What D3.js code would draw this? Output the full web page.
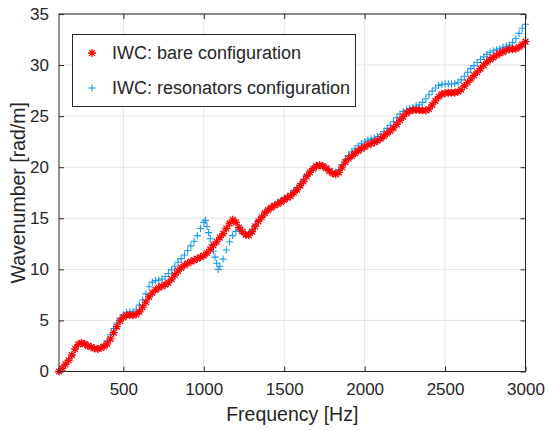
<!DOCTYPE html>
<html>
<head>
<meta charset="utf-8">
<script src="https://cdn.jsdelivr.net/npm/d3@7"></script>
<style>
  body { margin: 0; background: #fff; }
  text { font-family: "Liberation Sans", Arial, Helvetica, sans-serif; fill: #262626; }
</style>
</head>
<body>
<svg id="chart" width="548" height="431"></svg>
<script>
// Frequency grid shared by both measurements (Hz)
const freqHz = d3.range(100, 3001, 20);

// Wavenumber of the bare wall (rad/m)
const bareK = [
  0.0, 0.3, 0.7, 1.1, 1.6, 2.2, 2.65, 2.8, 2.7, 2.5,
  2.4, 2.25, 2.2, 2.3, 2.45, 2.7, 3.2, 3.8, 4.4, 4.95,
  5.3, 5.5, 5.55, 5.5, 5.6, 5.85, 6.3, 6.8, 7.3, 7.7,
  8.0, 8.2, 8.35, 8.5, 8.7, 9.05, 9.45, 9.85, 10.15, 10.4,
  10.6, 10.75, 10.9, 11.05, 11.2, 11.35, 11.6, 11.95, 12.35, 12.7,
  13.1, 13.5, 14.0, 14.5, 14.85, 14.6, 14.1, 13.7, 13.4, 13.35,
  13.7, 14.2, 14.7, 15.1, 15.5, 15.8, 16.05, 16.25, 16.4, 16.6,
  16.8, 17.0, 17.2, 17.5, 17.8, 18.2, 18.6, 19.1, 19.5, 19.85,
  20.1, 20.2, 20.1, 19.9, 19.65, 19.4, 19.3, 19.5, 20.0, 20.5,
  20.85, 21.1, 21.35, 21.6, 21.8, 22.0, 22.2, 22.3, 22.45, 22.6,
  22.8, 23.05, 23.3, 23.55, 23.85, 24.2, 24.6, 24.95, 25.3, 25.5,
  25.6, 25.6, 25.6, 25.55, 25.55, 25.7, 26.1, 26.5, 26.9, 27.15,
  27.25, 27.3, 27.3, 27.3, 27.4, 27.6, 27.95, 28.3, 28.65, 29.0,
  29.3, 29.65, 30.0, 30.3, 30.55, 30.75, 30.95, 31.15, 31.3, 31.45,
  31.55, 31.55, 31.6, 31.75, 32.0, 32.3
];

// Wavenumber of the wall fitted with resonators (rad/m)
const resonK = [
  0.0, 0.3, 0.7, 1.1, 1.6, 2.2, 2.65, 2.8, 2.7, 2.5,
  2.4, 2.25, 2.2, 2.35, 2.6, 3.0, 3.6, 4.2, 4.75, 5.2,
  5.55, 5.8, 5.85, 5.85, 6.05, 6.5, 7.0, 7.6, 8.3, 8.75,
  8.9, 8.95, 9.05, 9.3, 9.6, 9.95, 10.3, 10.7, 11.05, 11.4,
  11.85, 12.3, 12.75, 13.3, 14.0, 14.6, 14.2, 13.0, 11.8, 10.6,
  10.3, 11.0, 11.9, 12.7, 13.3, 13.7, 13.85, 13.7, 13.5, 13.45,
  13.8, 14.3, 14.8, 15.2, 15.6, 15.9, 16.15, 16.35, 16.55, 16.75,
  16.95, 17.15, 17.4, 17.7, 18.0, 18.4, 18.8, 19.2, 19.6, 19.9,
  20.15, 20.25, 20.15, 19.95, 19.75, 19.55, 19.5, 19.75, 20.25, 20.75,
  21.15, 21.5, 21.8, 22.1, 22.3, 22.5, 22.65, 22.75, 22.85, 23.0,
  23.2, 23.5, 23.8, 24.1, 24.45, 24.85, 25.2, 25.45, 25.6, 25.75,
  25.85, 26.0, 26.1, 26.35, 26.7, 27.1, 27.45, 27.75, 28.0, 28.1,
  28.15, 28.15, 28.15, 28.2, 28.3, 28.55, 28.9, 29.3, 29.65, 29.95,
  30.25, 30.55, 30.8, 31.05, 31.25, 31.4, 31.5, 31.6, 31.75, 31.85,
  31.95, 32.2, 32.6, 33.1, 33.6, 34.0
];

// Finer samples across the resonator notch
const notchHz = [1010, 1030, 1050, 1070, 1090];
const notchK = [14.8, 13.6, 12.4, 11.2, 10.0];

const xTicks = [500, 1000, 1500, 2000, 2500, 3000];
const yTicks = [0, 5, 10, 15, 20, 25, 30, 35];
const seriesNames = ["IWC: bare configuration", "IWC: resonators configuration"];
const xLabel = "Frequency [Hz]";
const yLabel = "Wavenumber [rad/m]";

const bareColor = "#ff0000";
const resonColor = "#1a9bf2";
const axisColor = "#262626";
const gridColor = "#e3e3e3";

const svg = d3.select("#chart");
const plot = { left: 59, right: 525.5, top: 14, bottom: 371.5 };

const x = d3.scaleLinear().domain([100, 3000]).range([plot.left, plot.right]);
const y = d3.scaleLinear().domain([0, 35]).range([plot.bottom, plot.top]);

// grid
const grid = svg.append("g");
grid.selectAll("line.gx").data(xTicks).join("line")
  .attr("x1", d => x(d)).attr("x2", d => x(d))
  .attr("y1", plot.top).attr("y2", plot.bottom)
  .attr("stroke", gridColor).attr("stroke-width", 1);
grid.selectAll("line.gy").data(yTicks).join("line")
  .attr("y1", d => y(d)).attr("y2", d => y(d))
  .attr("x1", plot.left).attr("x2", plot.right)
  .attr("stroke", gridColor).attr("stroke-width", 1);

// marker shapes
const rPlus = 3.6;
const plusPath = `M${-rPlus},0H${rPlus}M0,${-rPlus}V${rPlus}`;
const rStar = 4;
const d7 = rStar * 0.72;
const starPath = `M${-rStar},0H${rStar}M0,${-rStar}V${rStar}` +
  `M${-d7},${-d7}L${d7},${d7}M${-d7},${d7}L${d7},${-d7}`;

const resonPts = freqHz.map((f, i) => [f, resonK[i]])
  .concat(notchHz.map((f, i) => [f, notchK[i]]))
  .sort((a, b) => a[0] - b[0]);
const barePts = freqHz.map((f, i) => [f, bareK[i]]);

const data = svg.append("g");
data.selectAll("path.reson").data(resonPts).join("path")
  .attr("class", "reson")
  .attr("transform", d => `translate(${x(d[0])},${y(d[1])})`)
  .attr("d", plusPath)
  .attr("stroke", resonColor).attr("stroke-width", 1.1).attr("fill", "none");
data.selectAll("path.bare").data(barePts).join("path")
  .attr("class", "bare")
  .attr("transform", d => `translate(${x(d[0])},${y(d[1])})`)
  .attr("d", starPath)
  .attr("stroke", bareColor).attr("stroke-width", 1.3).attr("fill", "none");

// axes with inward ticks on all four sides
const tickLen = 5;
const xAxisB = d3.axisBottom(x).tickValues(xTicks).tickFormat(d3.format("d"))
  .tickSizeInner(-tickLen).tickSizeOuter(0).tickPadding(11);
const yAxisL = d3.axisLeft(y).tickValues(yTicks).tickFormat(d3.format("d"))
  .tickSizeInner(-tickLen).tickSizeOuter(0).tickPadding(10);
const xAxisT = d3.axisTop(x).tickValues(xTicks).tickSizeInner(-tickLen).tickSizeOuter(0).tickFormat("");
const yAxisR = d3.axisRight(y).tickValues(yTicks).tickSizeInner(-tickLen).tickSizeOuter(0).tickFormat("");

function styleAxis(g) {
  g.select(".domain").remove();
  g.selectAll(".tick line").attr("stroke", axisColor);
  g.selectAll(".tick text").attr("fill", axisColor)
    .style("font-size", "17px").style("font-family", '"Liberation Sans", Arial, Helvetica, sans-serif');
}
svg.append("g").attr("transform", `translate(0,${plot.bottom})`).call(xAxisB).call(styleAxis);
svg.append("g").attr("transform", `translate(${plot.left},0)`).call(yAxisL).call(styleAxis);
svg.append("g").attr("transform", `translate(0,${plot.top})`).call(xAxisT).call(styleAxis);
svg.append("g").attr("transform", `translate(${plot.right},0)`).call(yAxisR).call(styleAxis);

// frame
svg.append("rect")
  .attr("x", plot.left).attr("y", plot.top)
  .attr("width", plot.right - plot.left).attr("height", plot.bottom - plot.top)
  .attr("fill", "none").attr("stroke", axisColor).attr("stroke-width", 1);

// axis titles
svg.append("text")
  .attr("x", (plot.left + plot.right) / 2).attr("y", 421)
  .attr("text-anchor", "middle").style("font-size", "19.5px")
  .text(xLabel);
svg.append("text")
  .attr("transform", `translate(25,${(plot.top + plot.bottom) / 2}) rotate(-90)`)
  .attr("text-anchor", "middle").style("font-size", "19.5px")
  .text(yLabel);

// legend
const legend = svg.append("g");
legend.append("rect")
  .attr("x", 72.5).attr("y", 34.5).attr("width", 283).attr("height", 72)
  .attr("fill", "#fff").attr("stroke", axisColor).attr("stroke-width", 1);
const legendRows = [
  { name: seriesNames[0], path: starPath, color: bareColor, sw: 1.3, yPos: 53 },
  { name: seriesNames[1], path: plusPath, color: resonColor, sw: 1.1, yPos: 88 }
];
legendRows.forEach(row => {
  legend.append("path")
    .attr("transform", `translate(92,${row.yPos})`)
    .attr("d", row.path).attr("stroke", row.color).attr("stroke-width", row.sw).attr("fill", "none");
  legend.append("text")
    .attr("x", 112).attr("y", row.yPos).attr("dy", "0.36em")
    .style("font-size", "18px")
    .text(row.name);
});
</script>
</body>
</html>
